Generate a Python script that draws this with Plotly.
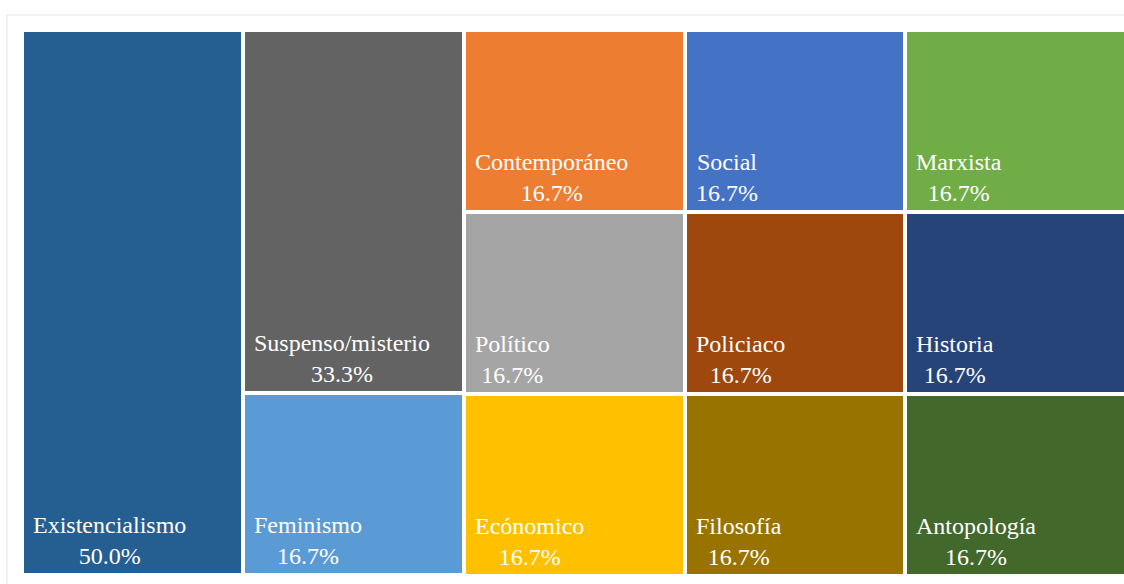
import plotly.graph_objects as go

# Treemap-style grid: five equal columns, each column stacked top to bottom
labels = ["Existencialismo",
          "Suspenso/misterio", "Feminismo",
          "Contemporáneo", "Político", "Ecónomico",
          "Social", "Policiaco", "Filosofía",
          "Marxista", "Historia", "Antopología"]
values = [50.0,
          33.3, 16.7,
          16.7, 16.7, 16.7,
          16.7, 16.7, 16.7,
          16.7, 16.7, 16.7]
columns = [0,
           1, 1,
           2, 2, 2,
           3, 3, 3,
           4, 4, 4]
colors = ["#255E91",
          "#636363", "#5B9BD5",
          "#ED7D31", "#A5A5A5", "#FFC000",
          "#4472C4", "#9E480E", "#997300",
          "#70AD47", "#264478", "#43682B"]

SERIF = "'Times New Roman', 'Liberation Serif', 'DejaVu Serif', serif"

fig = go.Figure()
stack_top = {}
annotations = []
for name, val, col, colr in zip(labels, values, columns, colors):
    fig.add_trace(go.Bar(
        x=[col], y=[val], width=1,
        marker=dict(color=colr, line=dict(color="white", width=4)),
        hoverinfo="skip", showlegend=False,
    ))
    start = stack_top.get(col, 0.0)
    end = start + val
    stack_top[col] = end
    annotations.append(dict(
        x=col - 0.5, y=end, xref="x", yref="y",
        text=f"{name}<br>{val:.1f}%",
        showarrow=False, xanchor="left", yanchor="bottom",
        align="center", xshift=9, yshift=4,
        font=dict(family=SERIF, size=24, color="white"),
    ))

ymax = max(stack_top.values())

fig.update_layout(
    barmode="stack",
    bargap=0,
    width=1124, height=584,
    margin=dict(l=22, r=0, t=30, b=8),
    paper_bgcolor="white",
    plot_bgcolor="white",
    xaxis=dict(range=[-0.5, 4.49], visible=False, fixedrange=True),
    yaxis=dict(range=[ymax, 0], visible=False, fixedrange=True),
    annotations=annotations,
    shapes=[dict(type="rect", xref="paper", yref="paper",
                 x0=-0.0136, x1=1.01, y0=-0.03, y1=1.0275,
                 line=dict(color="#e3e3e3", width=1), layer="below")],
)

fig.write_html("out.html")
